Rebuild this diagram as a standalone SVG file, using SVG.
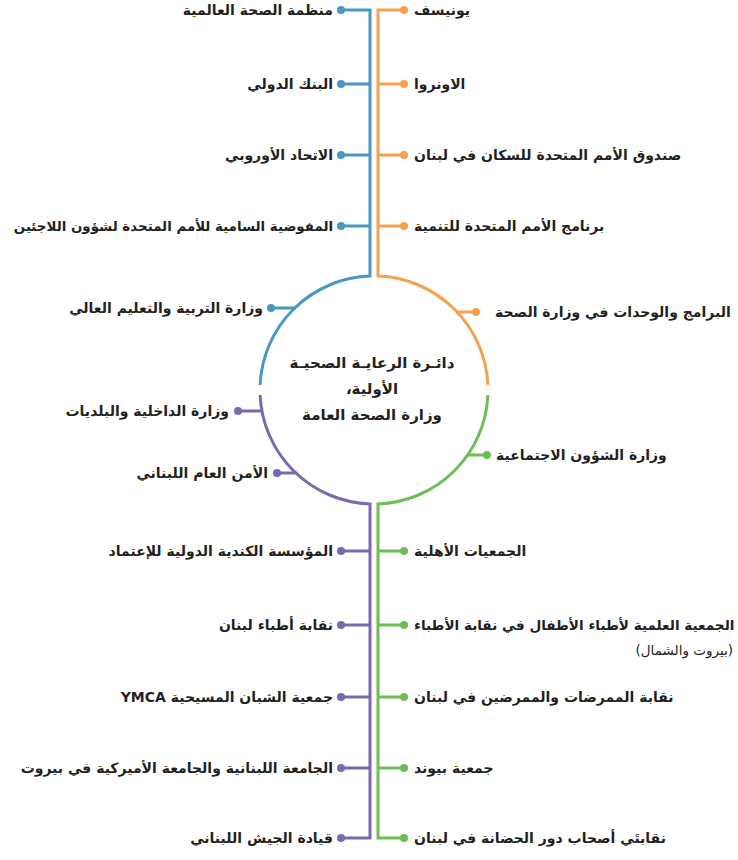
<svg xmlns="http://www.w3.org/2000/svg" width="738" height="860" viewBox="0 0 738 860">
<style>
.ln{fill:none;stroke-width:3;stroke-linecap:butt;stroke-linejoin:miter}
.b{stroke:#4a97bf}.o{stroke:#f4a04c}.p{stroke:#7a68b0}.g{stroke:#6cbd55}
.db{fill:#4a97bf}.do{fill:#f4a04c}.dp{fill:#7a68b0}.dg{fill:#6cbd55}
text{font-family:"DejaVu Sans",sans-serif;font-weight:bold;font-size:14px;fill:#231f20;direction:rtl}
.L{text-anchor:start}.R{text-anchor:end}
.c{text-anchor:middle;font-size:15px}
.s{font-weight:normal;font-size:13.5px}
</style>
<rect width="738" height="860" fill="#ffffff"/>
<g id="connectors">
<path class="ln b" d="M341,10 H370 V276.07 A114,114 0 0 0 260.1,385"/>
<path class="ln o" d="M404,10 H378 V276.07 A114,114 0 0 1 487.9,385"/>
<path class="ln p" d="M260.1,395 A114,114 0 0 0 370,503.93 V838 H341"/>
<path class="ln g" d="M487.9,395 A114,114 0 0 1 378,503.93 V838 H404"/>
<g class="ln b"><path d="M370,84H341M370,155H341M370,226H341M296,308H271"/></g>
<g class="ln o"><path d="M378,84H404M378,155H404M378,226H404M456,312H476"/></g>
<g class="ln p"><path d="M370,551H341M370,625H341M370,697H341M370,768H341M263,411H238M297,473H277"/></g>
<g class="ln g"><path d="M378,551H404M378,625H404M378,697H404M378,768H404M467,455H487"/></g>
</g>
<g id="center"><text class="c" x="372" y="368">دائـرة الرعايـة الصحيـة</text><text class="c" x="372" y="394">الأولية،</text><text class="c" x="372" y="420">وزارة الصحة العامة</text></g>
<g id="n1"><circle class="db" cx="341" cy="10" r="4"/><text class="L" x="333" y="15">منظمة الصحة العالمية</text></g>
<g id="n2"><circle class="db" cx="341" cy="84" r="4"/><text class="L" x="333" y="89">البنك الدولي</text></g>
<g id="n3"><circle class="db" cx="341" cy="155" r="4"/><text class="L" x="333" y="160">الاتحاد الأوروبي</text></g>
<g id="n4"><circle class="db" cx="341" cy="226" r="4"/><text class="L" x="333" y="231" style="font-size:13.4px">المفوضية السامية للأمم المتحدة لشؤون اللاجئين</text></g>
<g id="n5"><circle class="db" cx="271" cy="308" r="4"/><text class="L" x="263" y="313">وزارة التربية والتعليم العالي</text></g>
<g id="n6"><circle class="do" cx="404" cy="10" r="4"/><text class="R" x="414" y="15">يونيسف</text></g>
<g id="n7"><circle class="do" cx="404" cy="84" r="4"/><text class="R" x="414" y="89">الاونروا</text></g>
<g id="n8"><circle class="do" cx="404" cy="155" r="4"/><text class="R" x="414" y="160">صندوق الأمم المتحدة للسكان في لبنان</text></g>
<g id="n9"><circle class="do" cx="404" cy="226" r="4"/><text class="R" x="414" y="231">برنامج الأمم المتحدة للتنمية</text></g>
<g id="n10"><circle class="do" cx="476" cy="312" r="4"/><text class="R" x="495" y="317">البرامج والوحدات في وزارة الصحة</text></g>
<g id="n11"><circle class="dp" cx="238" cy="411" r="4"/><text class="L" x="229" y="416">وزارة الداخلية والبلديات</text></g>
<g id="n12"><circle class="dp" cx="277" cy="473" r="4"/><text class="L" x="268" y="478">الأمن العام اللبناني</text></g>
<g id="n13"><circle class="dp" cx="341" cy="551" r="4"/><text class="L" x="333" y="556">المؤسسة الكندية الدولية للإعتماد</text></g>
<g id="n14"><circle class="dp" cx="341" cy="625" r="4"/><text class="L" x="333" y="630">نقابة أطباء لبنان</text></g>
<g id="n15"><circle class="dp" cx="341" cy="697" r="4"/><text class="L" x="333" y="702">جمعية الشبان المسيحية YMCA</text></g>
<g id="n16"><circle class="dp" cx="341" cy="768" r="4"/><text class="L" x="333" y="773">الجامعة اللبنانية والجامعة الأميركية في بيروت</text></g>
<g id="n17"><circle class="dp" cx="341" cy="838" r="4"/><text class="L" x="333" y="843">قيادة الجيش اللبناني</text></g>
<g id="n18"><circle class="dg" cx="487" cy="455" r="4"/><text class="R" x="496" y="460">وزارة الشؤون الاجتماعية</text></g>
<g id="n19"><circle class="dg" cx="404" cy="551" r="4"/><text class="R" x="414" y="556">الجمعيات الأهلية</text></g>
<g id="n20"><circle class="dg" cx="404" cy="625" r="4"/><text class="R" x="414" y="630" style="font-size:13.6px">الجمعية العلمية لأطباء الأطفال في نقابة الأطباء</text><text class="L s" x="733" y="655">(بيروت والشمال)</text></g>
<g id="n21"><circle class="dg" cx="404" cy="697" r="4"/><text class="R" x="414" y="702">نقابة الممرضات والممرضين في لبنان</text></g>
<g id="n22"><circle class="dg" cx="404" cy="768" r="4"/><text class="R" x="414" y="773">جمعية بيوند</text></g>
<g id="n23"><circle class="dg" cx="404" cy="838" r="4"/><text class="R" x="414" y="843">نقابتَي أصحاب دور الحضانة في لبنان</text></g>
</svg>
